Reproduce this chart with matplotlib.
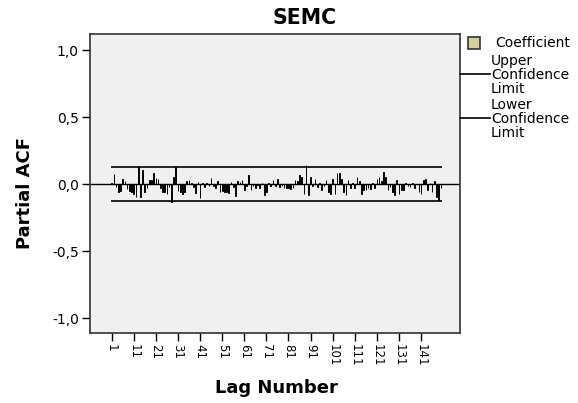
import matplotlib
matplotlib.use("Agg")
import matplotlib.pyplot as plt
from matplotlib.patches import Rectangle
from matplotlib.lines import Line2D

plt.rcParams['font.family'] = ['DejaVu Sans']

title = "SEMC"
lags = list(range(1, 151))
pacf = [
    0.01, 0.075, -0.02, -0.055, -0.05, 0.04, 0.02, -0.035, -0.05, -0.06,
    -0.075, -0.095, 0.125, -0.095, 0.105, -0.06, -0.03, 0.03, 0.03, 0.085,
    0.045, 0.04, -0.03, -0.055, -0.06, -0.07, -0.02, -0.13, 0.055, 0.13,
    -0.05, -0.055, -0.07, -0.06, 0.02, 0.03, 0.01, -0.02, -0.065, 0.015,
    -0.105, 0.01, -0.02, 0.01, -0.01, 0.045, -0.015, -0.03, 0.02, -0.055,
    -0.05, -0.055, -0.055, -0.065, 0.015, -0.02, -0.09, 0.02, 0.015, 0.03,
    -0.045, -0.01, 0.07, -0.045, -0.01, -0.03, -0.005, -0.03, 0.01, -0.08,
    -0.06, 0.01, -0.015, 0.03, -0.01, 0.04, -0.02, -0.01, -0.025, -0.025,
    -0.03, -0.035, -0.03, 0.03, 0.02, 0.065, 0.05, -0.07, 0.14, -0.08,
    0.055, -0.01, 0.04, -0.02, 0.01, -0.045, -0.01, 0.03, -0.055, -0.07,
    0.04, -0.07, 0.085, 0.08, 0.04, -0.055, -0.08, 0.03, -0.03, 0.01,
    -0.03, 0.055, 0.02, -0.07, -0.045, -0.045, -0.03, -0.035, 0.01, -0.03,
    0.04, 0.055, 0.02, 0.09, 0.055, -0.045, -0.02, -0.055, -0.08, 0.03,
    -0.07, -0.045, -0.045, 0.01, -0.01, -0.02, 0.01, -0.03, 0.005, -0.055,
    -0.07, 0.03, 0.04, -0.045, 0.01, -0.055, 0.02, -0.095, -0.12, -0.03,
]
upper_limit = 0.125
lower_limit = -0.125
xtick_vals = list(range(1, 150, 10))
ytick_vals = [-1.0, -0.5, 0.0, 0.5, 1.0]
ytick_labels = ["-1,0", "-0,5", "0,0", "0,5", "1,0"]
legend_labels = ["Coefficient", "Upper\nConfidence\nLimit", "Lower\nConfidence\nLimit"]

bar_color = "#d4cf98"
W, H = 578, 403

fig = plt.figure(figsize=(5.78, 4.03), dpi=100)
ax = fig.add_axes([90 / W, 1 - 333 / H, 370 / W, 299 / H])
ax.set_facecolor("#f0f0f0")

ax.bar(lags, pacf, width=0.3, color=bar_color, edgecolor="black", linewidth=0.7)
ax.axhline(0, color="black", lw=1.0)
ax.hlines([upper_limit, lower_limit], lags[0] - 0.5, lags[-1] + 0.5, color="black", lw=1.2)

ax.set_xlim(-8.8, 158.6)
ax.set_ylim(-1.11, 1.12)
ax.set_xticks(xtick_vals)
ax.set_xticklabels([str(v) for v in xtick_vals], rotation=-90, fontsize=8.5,
                   va="top", ha="center")
ax.set_yticks(ytick_vals)
ax.set_yticklabels(ytick_labels, fontsize=10)
ax.tick_params(axis="y", direction="out", length=6, width=1, colors="black", pad=2)
ax.tick_params(axis="x", direction="out", length=6, width=1, colors="black", pad=2)
for s in ax.spines.values():
    s.set_color("#333333")
    s.set_linewidth(1.2)

fig.text(305 / W, 1 - 17.5 / H, title, fontsize=14.8, fontweight="bold",
         ha="center", va="center")
fig.text(276 / W, 1 - 393 / H, "Lag Number", fontsize=13, fontweight="bold",
         ha="center", va="baseline")
fig.text(25 / W, 1 - 193 / H, "Partial ACF", fontsize=13, fontweight="bold",
         ha="center", va="center", rotation=90)

# legend drawn in figure pixel positions
fig.patches.append(Rectangle((468 / W, 1 - 49 / H), 12 / W, 12 / H,
                             transform=fig.transFigure, facecolor=bar_color,
                             edgecolor="#333333", linewidth=1.2))
fig.text(495 / W, 1 - 43 / H, legend_labels[0], fontsize=10, ha="left", va="center")
for yc, lab in [(74, legend_labels[1]), (118, legend_labels[2])]:
    fig.lines.append(Line2D([460 / W, 490 / W], [1 - yc / H, 1 - yc / H],
                            transform=fig.transFigure, color="black", lw=1.2))
    fig.text(491 / W, 1 - (yc + 1) / H, lab, fontsize=10, ha="left", va="center",
             linespacing=1.0)

fig.savefig("out.png", dpi=100)
